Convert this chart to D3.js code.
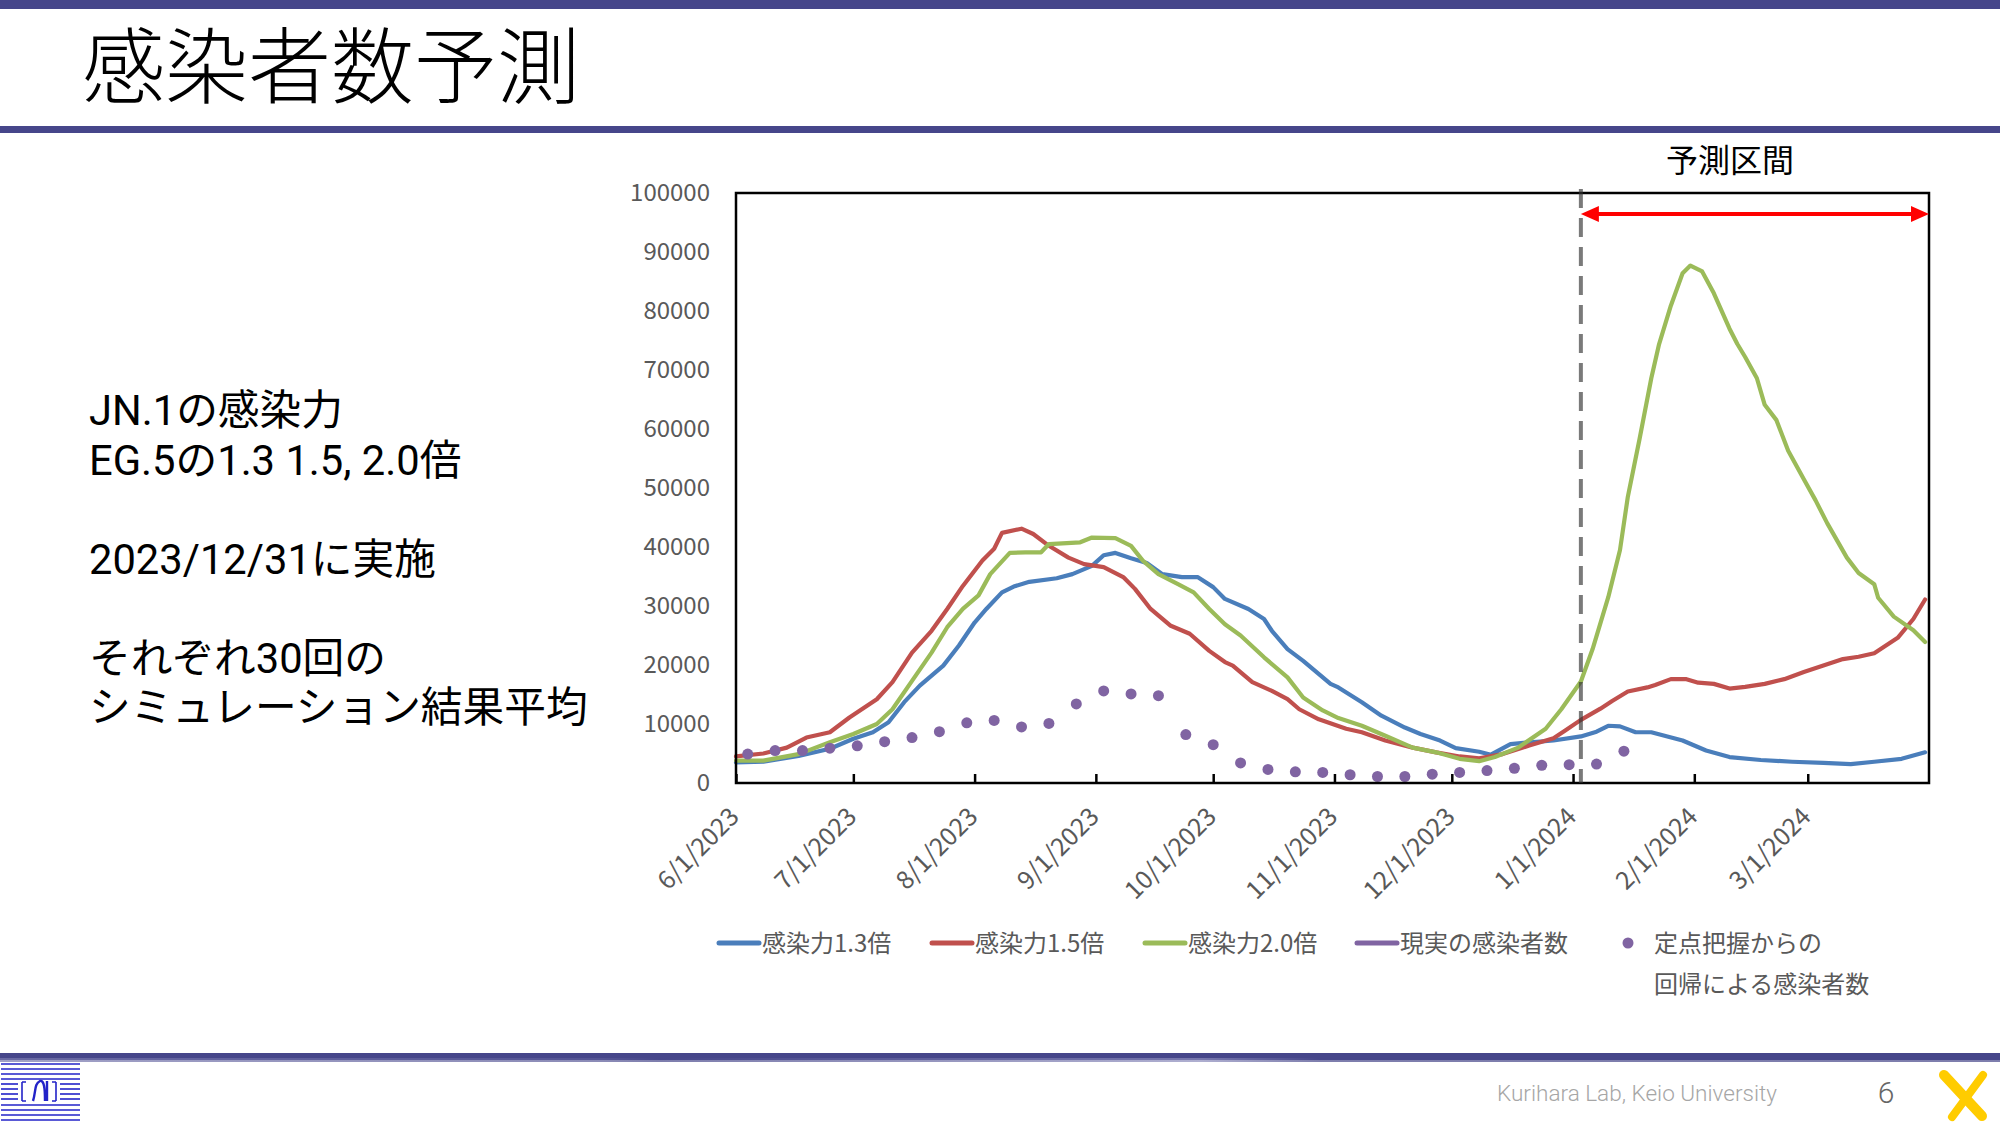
<!DOCTYPE html>
<html><head><meta charset="utf-8">
<script src="https://cdn.jsdelivr.net/npm/d3@7"></script>
<style>body{margin:0;background:#fff;position:relative;width:2000px;height:1125px;overflow:hidden}svg{display:block}
#notes{position:absolute;left:89px;top:386px;font-family:Roboto,'Noto Sans CJK JP','Noto Sans JP',sans-serif;font-size:41.7px;line-height:49.5px;color:#000;white-space:nowrap}
#notes div{height:49.5px}</style>
</head><body><svg id="c" width="2000" height="1125"></svg><div id="notes"></div>
<script>
// ---------- data ----------
const dates13 = ["2023-06-01","2023-06-08","2023-06-17","2023-06-25","2023-07-01","2023-07-06","2023-07-10","2023-07-14","2023-07-18","2023-07-24","2023-07-28","2023-08-01","2023-08-04","2023-08-08","2023-08-11","2023-08-15","2023-08-22","2023-08-26","2023-08-31","2023-09-03","2023-09-06","2023-09-10","2023-09-14","2023-09-18","2023-09-23","2023-09-27","2023-10-01","2023-10-04","2023-10-10","2023-10-14","2023-10-16","2023-10-20","2023-10-24","2023-10-31","2023-11-02","2023-11-08","2023-11-13","2023-11-19","2023-11-23","2023-11-28","2023-12-02","2023-12-08","2023-12-11","2023-12-16","2023-12-21","2023-12-27","2024-01-03","2024-01-07","2024-01-10","2024-01-13","2024-01-17","2024-01-21","2024-01-29","2024-02-04","2024-02-10","2024-02-18","2024-02-26","2024-03-05","2024-03-12","2024-03-18","2024-03-25","2024-03-31"];
const values13 = [3500,3600,4600,5800,7500,8600,10300,13700,16500,19900,23300,27200,29500,32300,33300,34100,34700,35400,36800,38600,39000,38100,37300,35400,34900,34900,33200,31200,29500,27800,25800,22700,20700,16800,16200,13700,11400,9400,8300,7200,5900,5300,4800,6600,6900,7200,7900,8700,9700,9600,8600,8600,7200,5500,4400,3900,3600,3400,3200,3600,4100,5200];

const dates15 = ["2023-06-01","2023-06-08","2023-06-14","2023-06-19","2023-06-25","2023-06-30","2023-07-07","2023-07-11","2023-07-16","2023-07-21","2023-07-25","2023-07-29","2023-08-03","2023-08-06","2023-08-08","2023-08-13","2023-08-16","2023-08-20","2023-08-25","2023-08-29","2023-09-03","2023-09-08","2023-09-11","2023-09-15","2023-09-20","2023-09-25","2023-09-30","2023-10-04","2023-10-06","2023-10-11","2023-10-16","2023-10-20","2023-10-23","2023-10-28","2023-11-04","2023-11-08","2023-11-14","2023-11-21","2023-11-27","2023-12-03","2023-12-08","2023-12-14","2023-12-21","2023-12-27","2023-12-30","2024-01-03","2024-01-08","2024-01-11","2024-01-15","2024-01-20","2024-01-22","2024-01-26","2024-01-30","2024-02-02","2024-02-06","2024-02-10","2024-02-14","2024-02-19","2024-02-24","2024-02-29","2024-03-05","2024-03-10","2024-03-14","2024-03-18","2024-03-21","2024-03-24","2024-03-28","2024-03-31"];
const values15 = [4500,5000,6000,7700,8600,11100,14200,17100,22100,25800,29500,33400,37700,39700,42400,43100,42200,40200,38200,37100,36600,34900,32900,29500,26700,25300,22400,20500,19900,17100,15600,14200,12500,10800,9200,8600,7200,6000,5200,4500,4200,4900,6400,7600,8900,10700,12600,13900,15500,16200,16600,17600,17600,17000,16800,16000,16300,16800,17600,18800,19900,21000,21400,22000,23300,24600,27800,31100];

const dates20 = ["2023-06-01","2023-06-08","2023-06-17","2023-06-25","2023-07-01","2023-07-07","2023-07-11","2023-07-16","2023-07-21","2023-07-25","2023-07-29","2023-08-02","2023-08-05","2023-08-10","2023-08-14","2023-08-18","2023-08-20","2023-08-28","2023-08-31","2023-09-06","2023-09-10","2023-09-13","2023-09-17","2023-09-22","2023-09-26","2023-09-30","2023-10-04","2023-10-08","2023-10-14","2023-10-20","2023-10-24","2023-10-29","2023-11-02","2023-11-08","2023-11-14","2023-11-21","2023-11-27","2023-12-03","2023-12-08","2023-12-12","2023-12-18","2023-12-25","2023-12-29","2024-01-03","2024-01-06","2024-01-10","2024-01-13","2024-01-15","2024-01-18","2024-01-21","2024-01-23","2024-01-26","2024-01-29","2024-01-31","2024-02-03","2024-02-06","2024-02-10","2024-02-12","2024-02-14","2024-02-17","2024-02-19","2024-02-22","2024-02-25","2024-02-29","2024-03-03","2024-03-06","2024-03-11","2024-03-14","2024-03-18","2024-03-19","2024-03-23","2024-03-28","2024-03-31"];
const values20 = [3800,3800,4900,6900,8300,10000,12500,17300,22100,26400,29500,31800,35400,39000,39100,39100,40500,40800,41600,41500,40200,37700,35400,33700,32300,29500,26900,25000,21300,17900,14500,12300,11000,9700,8000,6000,5200,4100,3700,4400,6000,9200,12500,17200,22700,31500,39500,48500,58300,68600,74400,80900,86400,87700,86700,83000,77000,74400,72200,68600,64100,61500,56300,51500,47900,44000,38200,35600,33700,31400,28200,25900,23900];

// 現実の感染者数 (legend only, no points drawn in the reference)
const datesActual = [];
const valuesActual = [];

const dotDates = ["2023-06-04","2023-06-11","2023-06-18","2023-06-25","2023-07-02","2023-07-09","2023-07-16","2023-07-23","2023-07-30","2023-08-06","2023-08-13","2023-08-20","2023-08-27","2023-09-03","2023-09-10","2023-09-17","2023-09-24","2023-10-01","2023-10-08","2023-10-15","2023-10-22","2023-10-29","2023-11-05","2023-11-12","2023-11-19","2023-11-26","2023-12-03","2023-12-10","2023-12-17","2023-12-24","2023-12-31","2024-01-07","2024-01-14"];
const dotValues = [4900,5500,5500,5900,6300,7000,7700,8700,10200,10600,9500,10100,13400,15600,15100,14800,8200,6500,3400,2300,1900,1800,1400,1100,1100,1500,1800,2100,2500,3000,3100,3200,5400];

const seriesNames = ["感染力1.3倍","感染力1.5倍","感染力2.0倍","現実の感染者数"];
const seriesColors = ["#4A7EBB","#C0504D","#9BBB59","#8064A2"];
const dotName = ["定点把握からの","回帰による感染者数"];
const dotColor = "#8064A2";

const yTicks = [0,10000,20000,30000,40000,50000,60000,70000,80000,90000,100000];
const xStart = "2023-06-01", xEnd = "2024-04-01";
const forecastStart = "2024-01-03";
const forecastLabel = "予測区間";

const title = "感染者数予測";
const notes = ["JN.1の感染力","EG.5の1.3 1.5, 2.0倍","","2023/12/31に実施","","それぞれ30回の","シミュレーション結果平均"];
const footer = "Kurihara Lab, Keio University";
const pageNo = "6";

// ---------- drawing ----------
const parse = d3.timeParse("%Y-%m-%d");
const fmt = d3.timeFormat("%-m/%-d/%Y");
const JP = "'Noto Sans CJK JP','Noto Sans JP','Noto Sans',sans-serif";
const svg = d3.select("#c");

// header
svg.append("rect").attr("x",0).attr("y",0).attr("width",2000).attr("height",9).attr("fill","#46468A");
svg.append("rect").attr("x",0).attr("y",126).attr("width",2000).attr("height",7).attr("fill","#46468A");
svg.append("text").attr("x",82).attr("y",97).attr("font-family",JP).attr("font-size",83).attr("font-weight",300)
  .attr("fill","#000").text(title);

// notes (HTML block so each line keeps its own line box)
d3.select("#notes").selectAll("div").data(notes).join("div").text(d=>d===""?"\u00a0":d);

// scales
const L=736,R=1929,T=193,B=783;
const x = d3.scaleTime().domain([parse(xStart),parse(xEnd)]).range([L,R]);
const y = d3.scaleLinear().domain([0,100000]).range([B,T]);

// y axis
const ya = svg.append("g").attr("transform",`translate(${L},0)`)
  .call(d3.axisLeft(y).tickValues(yTicks).tickSize(0).tickPadding(26).tickFormat(d3.format("d")));
ya.select(".domain").remove();
ya.selectAll("text").attr("font-family",JP).attr("font-size",24).attr("fill","#595959");

// x axis
const monthTicks = d3.timeMonth.range(parse(xStart), parse("2024-03-02"));
const xa = svg.append("g").attr("transform",`translate(0,${B})`)
  .call(d3.axisBottom(x).tickValues(monthTicks).tickFormat(fmt).tickSizeInner(-9).tickSizeOuter(0).tickPadding(0));
xa.select(".domain").remove();
xa.selectAll(".tick line").attr("stroke","#000").attr("stroke-width",2.5);
xa.selectAll(".tick text").attr("font-family",JP).attr("font-size",25).attr("fill","#595959")
  .attr("x",0).attr("y",0).attr("dy","0.35em").attr("text-anchor","end")
  .attr("transform","translate(-2,29) rotate(-45)");

// lines
const line = d3.line().x(d=>x(d.date)).y(d=>y(d.value));
const zip = (ds,vs)=>ds.map((d,i)=>({date:parse(d),value:vs[i]}));
const lineData = [zip(dates13,values13),zip(dates15,values15),zip(dates20,values20),zip(datesActual,valuesActual)];
svg.append("g").selectAll("path").data(lineData).join("path")
  .attr("d",d=>d.length?line(d):null).attr("fill","none")
  .attr("stroke",(d,i)=>seriesColors[i]).attr("stroke-width",4.2)
  .attr("stroke-linejoin","round").attr("stroke-linecap","round");

// dots
svg.append("g").selectAll("circle").data(zip(dotDates,dotValues)).join("circle")
  .attr("cx",d=>x(d.date)).attr("cy",d=>y(d.value)).attr("r",5.5).attr("fill",dotColor);

// frame
svg.append("rect").attr("x",L).attr("y",T).attr("width",R-L).attr("height",B-T)
  .attr("fill","none").attr("stroke","#000").attr("stroke-width",2.5);

// forecast marker
const fx = x(parse(forecastStart));
svg.append("line").attr("x1",fx).attr("x2",fx).attr("y1",189).attr("y2",B)
  .attr("stroke","#333").attr("stroke-opacity",0.65).attr("stroke-width",4).attr("stroke-dasharray","19,10");
const ay = 214;
svg.append("line").attr("x1",fx+14).attr("x2",R-14).attr("y1",ay).attr("y2",ay)
  .attr("stroke","#FF0000").attr("stroke-width",4);
svg.append("path").attr("d",`M${fx},${ay} L${fx+18},${ay-8} L${fx+18},${ay+8} Z`).attr("fill","#FF0000");
svg.append("path").attr("d",`M${R},${ay} L${R-18},${ay-8} L${R-18},${ay+8} Z`).attr("fill","#FF0000");
svg.append("text").attr("x",1730).attr("y",172).attr("text-anchor","middle")
  .attr("font-family",JP).attr("font-size",32).attr("fill","#000").text(forecastLabel);

// legend
const legX = [717,930,1143,1355];
const legY = 943;
const lg = svg.append("g");
seriesNames.forEach((n,i)=>{
  lg.append("line").attr("x1",legX[i]+2).attr("x2",legX[i]+42).attr("y1",legY).attr("y2",legY)
    .attr("stroke",seriesColors[i]).attr("stroke-width",5).attr("stroke-linecap","round");
  lg.append("text").attr("x",legX[i]+45).attr("y",legY).attr("dy","0.36em")
    .attr("font-family",JP).attr("font-size",24).attr("fill","#595959").text(n);
});
lg.append("circle").attr("cx",1628).attr("cy",legY).attr("r",5.5).attr("fill",dotColor);
dotName.forEach((t,i)=>{
  lg.append("text").attr("x",1654).attr("y",legY+i*41).attr("dy","0.36em")
    .attr("font-family",JP).attr("font-size",24).attr("fill","#595959").text(t);
});

// footer
const grad = svg.append("defs").append("linearGradient").attr("id","fg");
[["0%","#7878AE"],["30%","#5A5A98"],["33%","#46468A"],["60%","#8C8CBC"],["66%","#46468A"],["100%","#46468A"]]
  .forEach(s=>grad.append("stop").attr("offset",s[0]).attr("stop-color",s[1]));
svg.append("rect").attr("x",0).attr("y",1053).attr("width",2000).attr("height",7).attr("fill","#46468A");
svg.append("rect").attr("x",0).attr("y",1058).attr("width",2000).attr("height",4).attr("fill","url(#fg)").attr("opacity",0.7);

// logo (left)
const logo = svg.append("g").attr("stroke","#2323C8").attr("stroke-width",1.6).attr("fill","none");
[1064,1069,1074,1079,1105,1110,1115,1120].forEach(yy=>logo.append("line").attr("x1",1).attr("x2",80).attr("y1",yy).attr("y2",yy));
[1084,1089,1094,1099].forEach(yy=>{
  logo.append("line").attr("x1",1).attr("x2",18).attr("y1",yy).attr("y2",yy);
  logo.append("line").attr("x1",60).attr("x2",80).attr("y1",yy).attr("y2",yy);
});
logo.append("path").attr("d","M22,1082 L22,1101 M26,1082 L22,1082 M26,1101 L22,1101 M56,1082 L56,1101 M52,1082 L56,1082 M52,1101 L56,1101");
logo.append("path").attr("stroke-width",2.4).attr("d","M33,1101 C36,1092 34,1084 40,1081 C44,1080 45,1088 45,1101 M47,1081 L47,1101");

svg.append("text").attr("x",1497).attr("y",1101).attr("font-family","Roboto,'Liberation Sans',sans-serif")
  .attr("font-size",22).attr("font-weight",300).attr("fill","#A6A6A6")
  .attr("textLength",280).attr("lengthAdjust","spacingAndGlyphs").text(footer);
svg.append("text").attr("x",1886).attr("y",1103).attr("text-anchor","middle").attr("font-family","Roboto,sans-serif")
  .attr("font-size",30).attr("font-weight",300).attr("fill","#666").text(pageNo);
const xl = svg.append("g").attr("stroke","#FFCC00").attr("stroke-linecap","round");
xl.append("line").attr("x1",1944).attr("y1",1075).attr("x2",1982).attr("y2",1116).attr("stroke-width",10);
xl.append("line").attr("x1",1983).attr("y1",1075).attr("x2",1952).attr("y2",1117).attr("stroke-width",8);
</script></body></html>
